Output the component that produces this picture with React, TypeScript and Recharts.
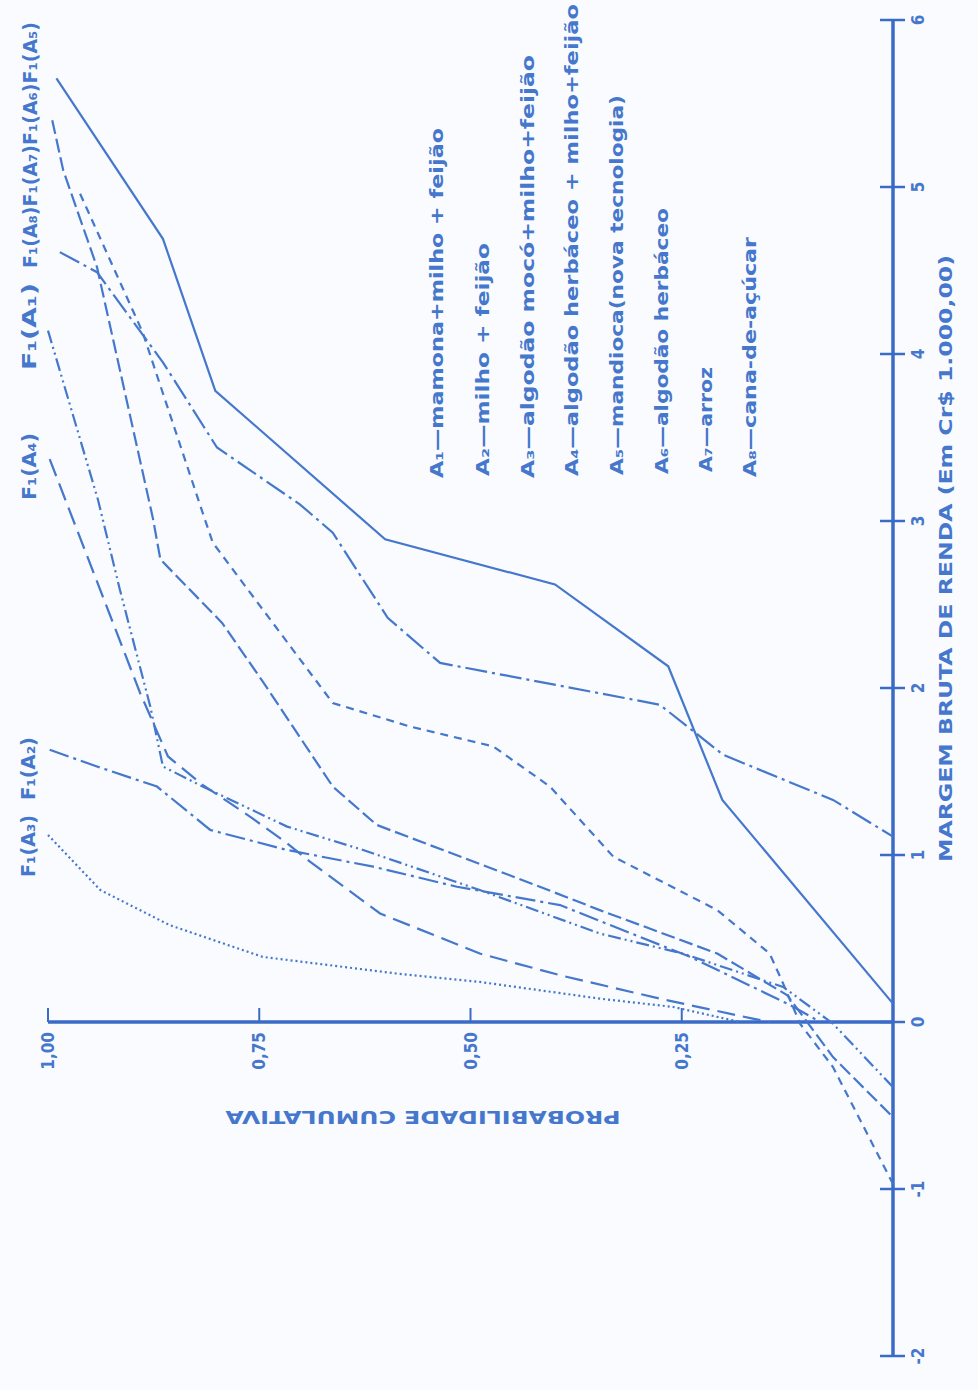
import React from "react"
import { ScatterChart, Scatter, XAxis, YAxis, ReferenceLine, ReferenceDot } from "recharts"

const INK = "#4577cc"
const AXIS = "#3a6bc6"
const PAPER = "#f9fbfe"
const FONT = "'DejaVu Sans Condensed', 'Liberation Sans Narrow', 'DejaVu Sans', sans-serif"

// probabilidade cumulativa (p) x margem bruta (m, Cr$ 1.000,00)
const a1Prob = [1.0, 0.941, 0.915, 0.879, 0.864, 0.817, 0.717, 0.627, 0.489, 0.347, 0.249, 0.13, 0.071, 0]
const a1Marg = [4.14, 3.13, 2.59, 1.89, 1.53, 1.41, 1.17, 1.03, 0.79, 0.53, 0.41, 0.21, -0.01, -0.39]

const a2Prob = [0.998, 0.942, 0.871, 0.808, 0.717, 0.615, 0.516, 0.394, 0.24, 0.125, 0.086]
const a2Marg = [1.63, 1.53, 1.41, 1.15, 1.03, 0.93, 0.81, 0.7, 0.39, 0.11, 0]

const a3Prob = [1.0, 0.938, 0.856, 0.746, 0.587, 0.489, 0.347, 0.26, 0.181]
const a3Marg = [1.12, 0.79, 0.58, 0.39, 0.29, 0.24, 0.14, 0.09, 0]

const a4Prob = [0.998, 0.891, 0.858, 0.817, 0.761, 0.717, 0.69, 0.607, 0.489, 0.394, 0.276, 0.166, 0.146]
const a4Marg = [3.37, 1.97, 1.59, 1.42, 1.23, 1.07, 0.96, 0.65, 0.41, 0.28, 0.14, 0.02, 0]

const a5Prob = [0.99, 0.864, 0.802, 0.601, 0.4, 0.266, 0.202, 0]
const a5Marg = [5.65, 4.69, 3.78, 2.89, 2.62, 2.13, 1.33, 0.11]

const a6Prob = [0.995, 0.982, 0.942, 0.876, 0.867, 0.794, 0.746, 0.663, 0.611, 0.418, 0.347, 0.208, 0.125, 0.071, 0]
const a6Marg = [5.4, 5.1, 4.52, 3.02, 2.77, 2.39, 2.04, 1.41, 1.18, 0.81, 0.67, 0.41, 0.16, -0.21, -0.57]

const a7Prob = [0.962, 0.888, 0.817, 0.805, 0.663, 0.572, 0.473, 0.406, 0.331, 0.208, 0.146, 0.13, 0.11, 0.071, 0]
const a7Marg = [4.96, 4.13, 3.05, 2.87, 1.91, 1.77, 1.65, 1.41, 0.99, 0.67, 0.41, 0.23, -0.01, -0.27, -0.97]

const a8Prob = [0.986, 0.942, 0.864, 0.8, 0.702, 0.663, 0.598, 0.536, 0.276, 0.201, 0.071, 0]
const a8Marg = [4.61, 4.49, 3.95, 3.44, 3.1, 2.93, 2.42, 2.15, 1.9, 1.6, 1.33, 1.11]

const margTicks = [-2, -1, 0, 1, 2, 3, 4, 5, 6]
const probTicks = [1, 0.75, 0.5, 0.25]
const probTickLabels = ["1,00", "0,75", "0,50", "0,25"]

const legendLabels = [
  "A₁—mamona+milho + feijão",
  "A₂—milho + feijão",
  "A₃—algodão mocó+milho+feijão",
  "A₄—algodão herbáceo + milho+feijão",
  "A₅—mandioca(nova tecnologia)",
  "A₆—algodão herbáceo",
  "A₇—arroz",
  "A₈—cana-de-açúcar",
]

const toPoints = (prob: number[], marg: number[]) => prob.map((p, i) => ({ p, m: marg[i] }))

const series = [
  { name: "A1", data: toPoints(a1Prob, a1Marg), dash: "13 4 2 4 2 4" },
  { name: "A2", data: toPoints(a2Prob, a2Marg), dash: "20 5 3 5" },
  { name: "A3", data: toPoints(a3Prob, a3Marg), dash: "2 3" },
  { name: "A4", data: toPoints(a4Prob, a4Marg), dash: "18 8" },
  { name: "A5", data: toPoints(a5Prob, a5Marg), dash: undefined },
  { name: "A6", data: toPoints(a6Prob, a6Marg), dash: "14 5" },
  { name: "A7", data: toPoints(a7Prob, a7Marg), dash: "8 6" },
  { name: "A8", data: toPoints(a8Prob, a8Marg), dash: "22 5 3 5" },
]

// rotated labels (x = column centre, y1 = bottom, y2 = top)
const legendPos = [
  [437, 478, 128],
  [483, 476, 243],
  [528, 478, 55],
  [572, 476, 4],
  [617, 475, 95],
  [662, 474, 208],
  [706, 472, 367],
  [750, 477, 237],
]

const topLabels = [
  { text: "F₁(A₃)", x: 28, y1: 877, y2: 815 },
  { text: "F₁(A₂)", x: 28, y1: 800, y2: 737 },
  { text: "F₁(A₄)", x: 29, y1: 500, y2: 433 },
  { text: "F₁(A₁)", x: 29, y1: 370, y2: 283 },
  { text: "F₁(A₈)F₁(A₇)F₁(A₆)F₁(A₅)", x: 30, y1: 268, y2: 22 },
]

function UpText({ x, y1, y2, text, size }: { x: number; y1: number; y2: number; text: string; size: number }) {
  return (
    <text
      x={x}
      y={y1}
      transform={`rotate(-90 ${x} ${y1})`}
      dominantBaseline="central"
      textLength={y1 - y2}
      lengthAdjust="spacingAndGlyphs"
      fontFamily={FONT}
      fontWeight="bold"
      fontSize={size}
      fill={INK}
    >
      {text}
    </text>
  )
}

const MargTick = (props: any) => {
  const { x, y, payload } = props
  return (
    <g>
      <line x1={x - 13} x2={x + 12} y1={y} y2={y} stroke={AXIS} strokeWidth={2.5} />
      <text
        x={x + 25}
        y={y}
        transform={`rotate(-90 ${x + 25} ${y})`}
        textAnchor="middle"
        dominantBaseline="central"
        fontFamily={FONT}
        fontWeight="bold"
        fontSize={17}
        fill={INK}
      >
        {payload.value}
      </text>
    </g>
  )
}

const probTickShape = (label: string) => (props: any) => {
  const { cx, cy } = props
  return (
    <g>
      <line x1={cx} x2={cx} y1={cy} y2={cy - 14} stroke={AXIS} strokeWidth={2} />
      <text
        x={cx}
        y={cy + 10}
        transform={`rotate(-90 ${cx} ${cy + 10})`}
        textAnchor="end"
        dominantBaseline="central"
        fontFamily={FONT}
        fontWeight="bold"
        fontSize={17}
        fill={INK}
      >
        {label}
      </text>
    </g>
  )
}

export default function App() {
  return (
    <div style={{ position: "absolute", left: 0, top: 0, width: 978, height: 1390, background: PAPER }}>
      <ScatterChart width={978} height={1390} margin={{ top: 20, right: 25, bottom: 34, left: 48 }}>
        <XAxis type="number" dataKey="p" domain={[0, 1]} reversed hide />
        <YAxis
          type="number"
          dataKey="m"
          domain={[-2, 6]}
          ticks={margTicks}
          interval={0}
          orientation="right"
          width={60}
          tickSize={0}
          tickMargin={0}
          tickLine={false}
          axisLine={{ stroke: AXIS, strokeWidth: 3.5 }}
          tick={<MargTick />}
        />
        <ReferenceLine y={0} stroke={AXIS} strokeWidth={3.5} />
        {probTicks.map((t, i) => (
          <ReferenceDot key={t} x={t} y={0} r={0} shape={probTickShape(probTickLabels[i])} />
        ))}
        {series.map((s) => (
          <Scatter
            key={s.name}
            name={s.name}
            data={s.data}
            fill={INK}
            line={{ stroke: INK, strokeWidth: 2.2, strokeDasharray: s.dash }}
            lineType="joint"
            shape={() => <g />}
            isAnimationActive={false}
          />
        ))}
      </ScatterChart>
      <svg width={978} height={1390} style={{ position: "absolute", left: 0, top: 0, pointerEvents: "none" }}>
        {legendLabels.map((t, i) => (
          <UpText key={t} x={legendPos[i][0]} y1={legendPos[i][1]} y2={legendPos[i][2]} text={t} size={17} />
        ))}
        {topLabels.map((l) => (
          <UpText key={l.text} x={l.x} y1={l.y1} y2={l.y2} text={l.text} size={19} />
        ))}
        <UpText x={945} y1={862} y2={255} text="MARGEM BRUTA DE RENDA (Em Cr$ 1.000,00)" size={18} />
        <text
          x={423}
          y={1117}
          transform="rotate(180 423 1117)"
          textAnchor="middle"
          dominantBaseline="central"
          textLength={395}
          lengthAdjust="spacingAndGlyphs"
          fontFamily={FONT}
          fontWeight="bold"
          fontSize={18}
          fill={INK}
        >
          PROBABILIDADE CUMULATIVA
        </text>
      </svg>
    </div>
  )
}
